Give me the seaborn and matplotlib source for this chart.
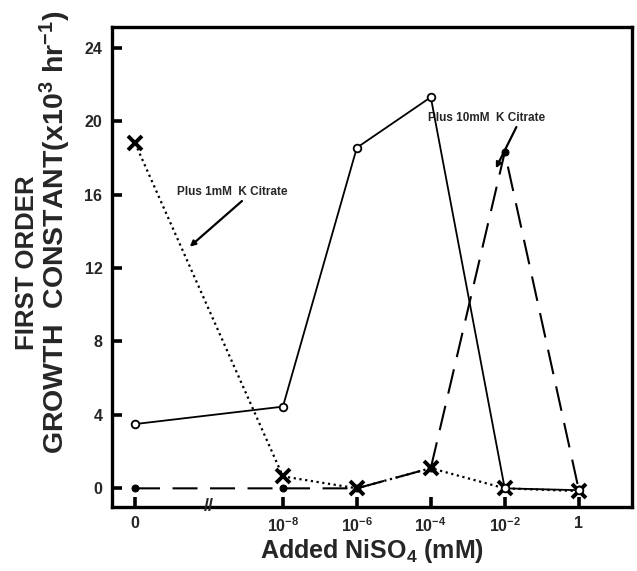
import numpy as np
import pandas as pd
import matplotlib
matplotlib.use("Agg")
import matplotlib.pyplot as plt
import seaborn as sns

# ---- data ----
categories = ["0", "1e-8", "1e-6", "1e-4", "1e-2", "1"]
tick_labels = ["0", r"10$^{-8}$", r"10$^{-6}$", r"10$^{-4}$", r"10$^{-2}$", "1"]
# axis break between "0" and the first concentration -> one empty slot
slot_gap = 1
no_citrate = [3.5, 4.45, 18.55, 21.3, 0.0, -0.1]          # solid, open circles
plus_1mM = [18.8, 0.65, 0.0, 1.1, 0.0, -0.15]             # dotted, X
plus_10mM = [0.0, 0.0, 0.0, 1.1, 18.3, -0.05]             # dashed, filled circles

sns.set_theme(style="white")
plt.rcParams["font.family"] = ["Liberation Sans", "DejaVu Sans"]
plt.rcParams["font.weight"] = "bold"
plt.rcParams["mathtext.fontset"] = "custom"
plt.rcParams["mathtext.rm"] = "Liberation Sans:bold"
plt.rcParams["mathtext.bf"] = "Liberation Sans:bold"
plt.rcParams["mathtext.default"] = "bf"

positions = [0] + [i + slot_gap for i in range(1, len(categories))]
df = pd.DataFrame({"pos": positions, "none": no_citrate,
                   "c1": plus_1mM, "c10": plus_10mM})

fig = plt.figure(figsize=(6.37, 5.71), dpi=100)
ax = fig.add_axes([0.176, 0.1126, 0.816, 0.8394])

sns.lineplot(data=df, x="pos", y="c10", ax=ax, color="black", lw=1.5,
             linestyle=(0, (12, 6)), marker="o", markersize=5,
             markerfacecolor="black", markeredgecolor="black", zorder=3)
sns.lineplot(data=df, x="pos", y="c1", ax=ax, color="black", lw=1.6,
             linestyle=(0, (1, 1.6)), marker="x", markersize=9.5,
             markeredgecolor="black", markeredgewidth=2.8, zorder=4)
sns.lineplot(data=df, x="pos", y="none", ax=ax, color="black", lw=1.3,
             linestyle="-", marker="o", markersize=5.5,
             markerfacecolor="white", markeredgecolor="black",
             markeredgewidth=1.3, zorder=5)

ax.set_xlim(-0.31, 6.72)
ax.set_ylim(-1.0, 25.1)
ax.set_xticks(positions)
ax.set_xticklabels(tick_labels)
ax.set_yticks([0, 4, 8, 12, 16, 20, 24])
ax.tick_params(axis="both", direction="in", length=7, width=2.6,
               labelsize=11.5, pad=7, color="black", bottom=True, left=True)
for lab in ax.get_xticklabels() + ax.get_yticklabels():
    lab.set_fontweight("bold")
for sp in ax.spines.values():
    sp.set_linewidth(2.4)
    sp.set_color("black")

ax.set_xlabel(r"Added NiSO$_4$ (mM)", fontsize=18, fontweight="bold", labelpad=1)
ax.set_ylabel("")
fig.text(0.043, 0.54, "FIRST ORDER", rotation=90, ha="center", va="center",
         fontsize=18.5, fontweight="bold")
fig.text(0.087, 0.593, r"GROWTH  CONSTANT(x10$^3$ hr$^{-1}$)", rotation=90,
         ha="center", va="center", fontsize=20.5, fontweight="bold")

# axis break mark
ax.text(1.0, -1.0, "//", ha="center", va="center", fontsize=13,
        fontweight="bold", clip_on=False, zorder=6)

# annotations
ax.annotate("Plus 1mM  K Citrate", xy=(0.74, 13.16), xytext=(0.57, 16.15),
            fontsize=8.5, fontweight="bold", ha="left", va="center",
            arrowprops=dict(arrowstyle="-|>", color="black", lw=1.6,
                            mutation_scale=8, shrinkA=0, shrinkB=0,
                            relpos=(0.62, 0.0)))
ax.annotate("Plus 10mM  K Citrate", xy=(4.88, 17.43), xytext=(3.96, 20.18),
            fontsize=8.5, fontweight="bold", ha="left", va="center",
            arrowprops=dict(arrowstyle="-|>", color="black", lw=1.6,
                            mutation_scale=8, shrinkA=0, shrinkB=0,
                            relpos=(0.77, 0.0)))

fig.savefig("out.png", dpi=100)
